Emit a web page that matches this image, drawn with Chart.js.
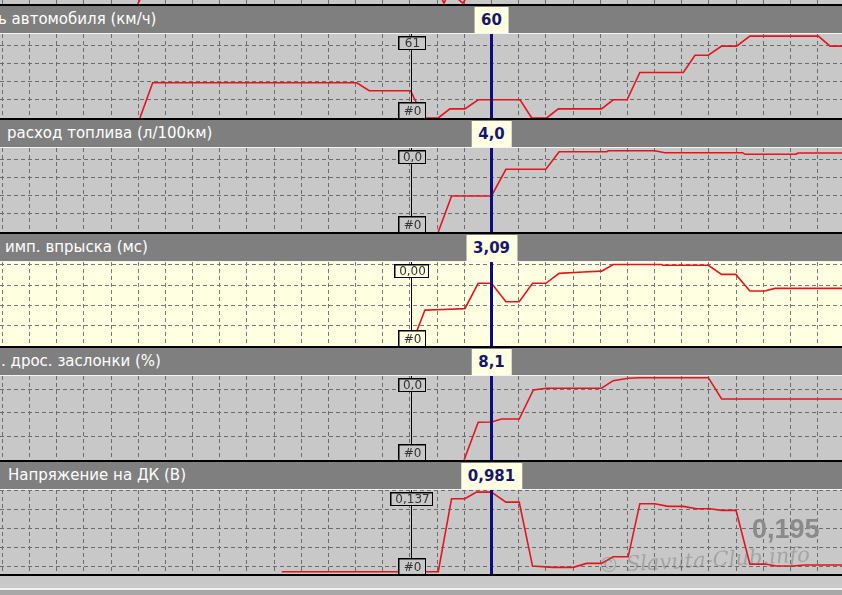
<!DOCTYPE html>
<html>
<head>
<meta charset="utf-8">
<script src="https://cdn.jsdelivr.net/npm/chart.js@4.4.1/dist/chart.umd.min.js"></script>
<style>
  body { margin: 0; width: 842px; height: 595px; overflow: hidden; position: relative; background: #a8a8a8; font-family: "DejaVu Sans", sans-serif; }
  .abs { position: absolute; left: 0; width: 842px; }
  .hdr { background: #7f7f7f; overflow: hidden; white-space: nowrap; }
  .hdr span { position: absolute; top: 4px; color: #fff; font-size: 15px; }
  .val { position: absolute; background: #ffffe1; color: #16166e; font: bold 15px "DejaVu Sans", sans-serif; text-align: center; line-height: 26px; padding: 0 7px; transform: translateX(-50%); }
  canvas { display: block; }
</style>
</head>
<body>
<script>
// time axis: one grid cell = 1 s, cursor and marker positions in s
const xMinT = -0.09, xMaxT = 30.9;
const cursorT = 18.0;
const markerT = 15.03;

const titles = ['ь автомобиля (км/ч)', 'расход топлива (л/100км)', 'имп. впрыска (мс)', '. дрос. заслонки (%)', 'Напряжение на ДК (В)'];
const cursorLabels = ['60', '4,0', '3,09', '8,1', '0,981'];
const markerTopLabels = ['61', '0,0', '0,00', '0,0', '0,137'];
const markerBottomLabel = '#0';
const bigValue = '0,195';

// y ranges of the five panels
const yMin = [0, 0, 0, 0, 0.116];
const yMax = [277, 9.33, 4.14, 17.87, 1.005];
const yStep = [60, 2, 1, 5, 0.2];

// bottom edge of the panel above (only a few px visible)
const topT = [4.98, 5.2, 16.05, 16.25, 16.45, 16.95, 17.2];
const topV = [0, 3, 3, 0.2, 3, 0.2, 3];

// speed (km/h)
const speedT = [5.06, 5.53, 13.04, 13.50, 15.02, 15.51, 16.04, 16.47, 17.02, 17.51, 19.05, 19.48, 20.03, 20.46, 22.05, 22.48, 22.99, 23.46, 25.06, 25.49, 25.98, 26.47, 27.02, 27.51, 30.03, 30.46, 31];
const speedV = [0, 116, 116, 90, 90, 0, 0, 30, 30, 60, 60, 0, 0, 30, 30, 60, 60, 150, 150, 207, 207, 237, 237, 270, 270, 237, 237];

// fuel consumption (l/100km)
const fuelT = [16.04, 16.53, 18.0, 18.53, 20.0, 20.49, 22.24, 22.3, 24.01, 24.38, 27.24, 27.33, 29.2, 29.29, 31];
const fuelV = [0, 4.0, 4.0, 6.97, 6.97, 8.92, 8.92, 9.03, 9.03, 8.81, 8.81, 8.63, 8.63, 8.78, 8.78];

// injection pulse (ms)
const injT = [15.04, 15.55, 16.22, 17.02, 17.51, 18.0, 18.53, 19.02, 19.51, 20.0, 20.49, 21.38, 22.05, 22.48, 24.26, 24.3, 25.98, 26.47, 26.99, 27.51, 28.06, 28.43, 31];
const injV = [0, 1.77, 1.80, 1.84, 3.09, 3.09, 2.18, 2.18, 3.09, 3.09, 3.58, 3.65, 3.69, 4.02, 4.02, 3.98, 3.98, 3.53, 3.53, 2.71, 2.71, 2.84, 2.84];

// throttle (%)
const throttleT = [16.99, 17.51, 18.0, 18.37, 19.02, 19.54, 20.03, 22.05, 22.48, 23.03, 23.46, 25.98, 26.47, 31];
const throttleV = [0, 8.02, 8.1, 8.72, 8.72, 14.89, 15.26, 15.26, 16.87, 17.38, 17.51, 17.51, 12.98, 12.98];

// O2 sensor voltage (V)
const lambdaT = [10.28, 16.04, 16.53, 17.02, 17.45, 18.0, 18.53, 19.02, 19.51, 20.27, 21.01, 21.5, 22.05, 22.48, 23.03, 23.46, 24.01, 24.5, 25.06, 25.55, 26.04, 26.47, 27.0, 27.51, 28.06, 28.49, 29.1, 29.53, 31];
const lambdaV = [0.14, 0.14, 0.913, 0.913, 0.982, 0.982, 0.877, 0.877, 0.2, 0.186, 0.186, 0.228, 0.228, 0.298, 0.298, 0.86, 0.86, 0.832, 0.832, 0.807, 0.807, 0.789, 0.789, 0.221, 0.221, 0.2, 0.2, 0.211, 0.211];

const seriesT = [speedT, fuelT, injT, throttleT, lambdaT];
const seriesV = [speedV, fuelV, injV, throttleV, lambdaV];

const PLOT_H = 84, PITCH = 114;
const plotBg = ['#c8c8c8', '#c8c8c8', '#ffffe1', '#c8c8c8', '#c8c8c8'];

function box(parent, top, height, bg) {
  const d = document.createElement('div');
  d.className = 'abs';
  d.style.top = top + 'px';
  d.style.height = height + 'px';
  d.style.background = bg;
  parent.appendChild(d);
  return d;
}

// marker boxes, cursor line
const overlay = {
  id: 'overlay',
  afterDatasetsDraw(chart, args, opts) {
    const { ctx, chartArea: a, scales: { x } } = chart;
    if (!opts.marker) return;
    ctx.save();
    const mx = Math.round(x.getPixelForValue(markerT)) + 0.5;
    ctx.strokeStyle = '#000';
    ctx.lineWidth = 1;
    ctx.beginPath();
    ctx.moveTo(mx, a.top);
    ctx.lineTo(mx, a.bottom);
    ctx.stroke();
    ctx.font = '12px "DejaVu Sans"';
    ctx.textAlign = 'center';
    ctx.textBaseline = 'middle';
    const tag = (txt, y, h) => {
      const w = Math.max(28, Math.ceil(ctx.measureText(txt).width) + 8);
      const bx = Math.round(mx - w / 2);
      ctx.fillStyle = opts.bg;
      ctx.fillRect(bx, y, w, h);
      ctx.fillStyle = '#000';
      ctx.fillRect(bx, y, w, 1.5);
      ctx.fillRect(bx, y, 1.5, h);
      ctx.fillRect(bx, y + h - 1, w, 1);
      ctx.fillRect(bx + w - 1, y, 1, h);
      ctx.fillStyle = '#333';
      ctx.fillText(txt, mx + 1, y + h / 2 + 1);
    };
    tag(opts.marker, a.top + 2, 14);
    tag(markerBottomLabel, a.bottom - 16, 17);
    const cx = x.getPixelForValue(cursorT);
    ctx.strokeStyle = '#0c0c82';
    ctx.lineWidth = 3;
    ctx.beginPath();
    ctx.moveTo(cx, a.top);
    ctx.lineTo(cx, a.bottom);
    ctx.stroke();
    ctx.restore();
  }
};

function makeChart(canvas, cfg) {
  return new Chart(canvas, {
    type: 'line',
    data: {
      datasets: [{
        data: cfg.t.map((t, k) => ({ x: t, y: cfg.v[k] })),
        borderColor: '#e5141c',
        borderWidth: 1.6,
        pointRadius: 0,
        tension: 0,
        fill: false
      }]
    },
    options: {
      responsive: false,
      animation: false,
      layout: { padding: 0 },
      plugins: {
        legend: { display: false },
        tooltip: { enabled: false },
        overlay: { marker: cfg.marker, bg: cfg.bg }
      },
      scales: {
        x: {
          type: 'linear', min: xMinT, max: xMaxT,
          afterFit(s) { s.height = 0; },
          ticks: { display: false, stepSize: 1, includeBounds: false },
          grid: { color: cfg.grid, drawTicks: false, lineWidth: 1 },
          border: { display: false, dash: [4, 3] }
        },
        y: {
          type: 'linear', min: cfg.min, max: cfg.max,
          afterFit(s) { s.width = 0; },
          ticks: { display: false, stepSize: cfg.step || 1000, includeBounds: false },
          grid: { color: cfg.grid, drawTicks: false, lineWidth: 1, display: cfg.step != null },
          border: { display: false, dash: [4, 3] }
        }
      }
    },
    plugins: [overlay]
  });
}

function canvasAt(top, h, bg) {
  const c = document.createElement('canvas');
  c.width = 842; c.height = h;
  c.style.position = 'absolute';
  c.style.left = '0px';
  c.style.top = top + 'px';
  c.style.background = bg;
  document.body.appendChild(c);
  return c;
}

// strip of the panel above, cut by the window
makeChart(canvasAt(0, 4, '#c8c8c8'), { t: topT, v: topV, min: 0, max: 1, step: null, grid: '#6c6c6c', bg: '#c8c8c8' });

for (let i = 0; i < 5; i++) {
  const plotTop = 34 + PITCH * i;
  box(document.body, plotTop - 30, 2, '#000');
  const h = box(document.body, plotTop - 28, 27, '#7f7f7f');
  h.className += ' hdr';
  const s = document.createElement('span');
  s.textContent = titles[i];
  s.style.left = [-2, 7, 5, 1, 8][i] + 'px';
  h.appendChild(s);
  box(document.body, plotTop - 1, 1, '#f4f4f4');
  const chart = makeChart(canvasAt(plotTop, PLOT_H, plotBg[i]), {
    t: seriesT[i], v: seriesV[i], min: yMin[i], max: yMax[i], step: yStep[i],
    grid: i === 2 ? '#7a7a7a' : '#6c6c6c', bg: plotBg[i], marker: markerTopLabels[i]
  });
  const v = document.createElement('div');
  v.className = 'val';
  v.textContent = cursorLabels[i];
  v.style.top = (plotTop - 27) + 'px';
  v.style.left = chart.scales.x.getPixelForValue(cursorT) + 'px';
  document.body.appendChild(v);
}

// bottom frame
box(document.body, 574, 2, '#000');
box(document.body, 576, 12, '#c8c8c8');
box(document.body, 588, 2, '#f4f4f4');

const big = document.createElement('div');
big.textContent = bigValue;
big.style.cssText = 'position:absolute;left:752px;top:514px;font:bold 27px "Liberation Sans",sans-serif;color:#8a8a8a;';
document.body.appendChild(big);

const wm = document.createElement('div');
wm.textContent = '© Slavuta-Club.info';
wm.style.cssText = 'position:absolute;left:598px;top:548px;font:italic 21px "DejaVu Serif",serif;color:rgba(110,110,110,0.4);transform:rotate(-3deg);';
document.body.appendChild(wm);
</script>
</body>
</html>
